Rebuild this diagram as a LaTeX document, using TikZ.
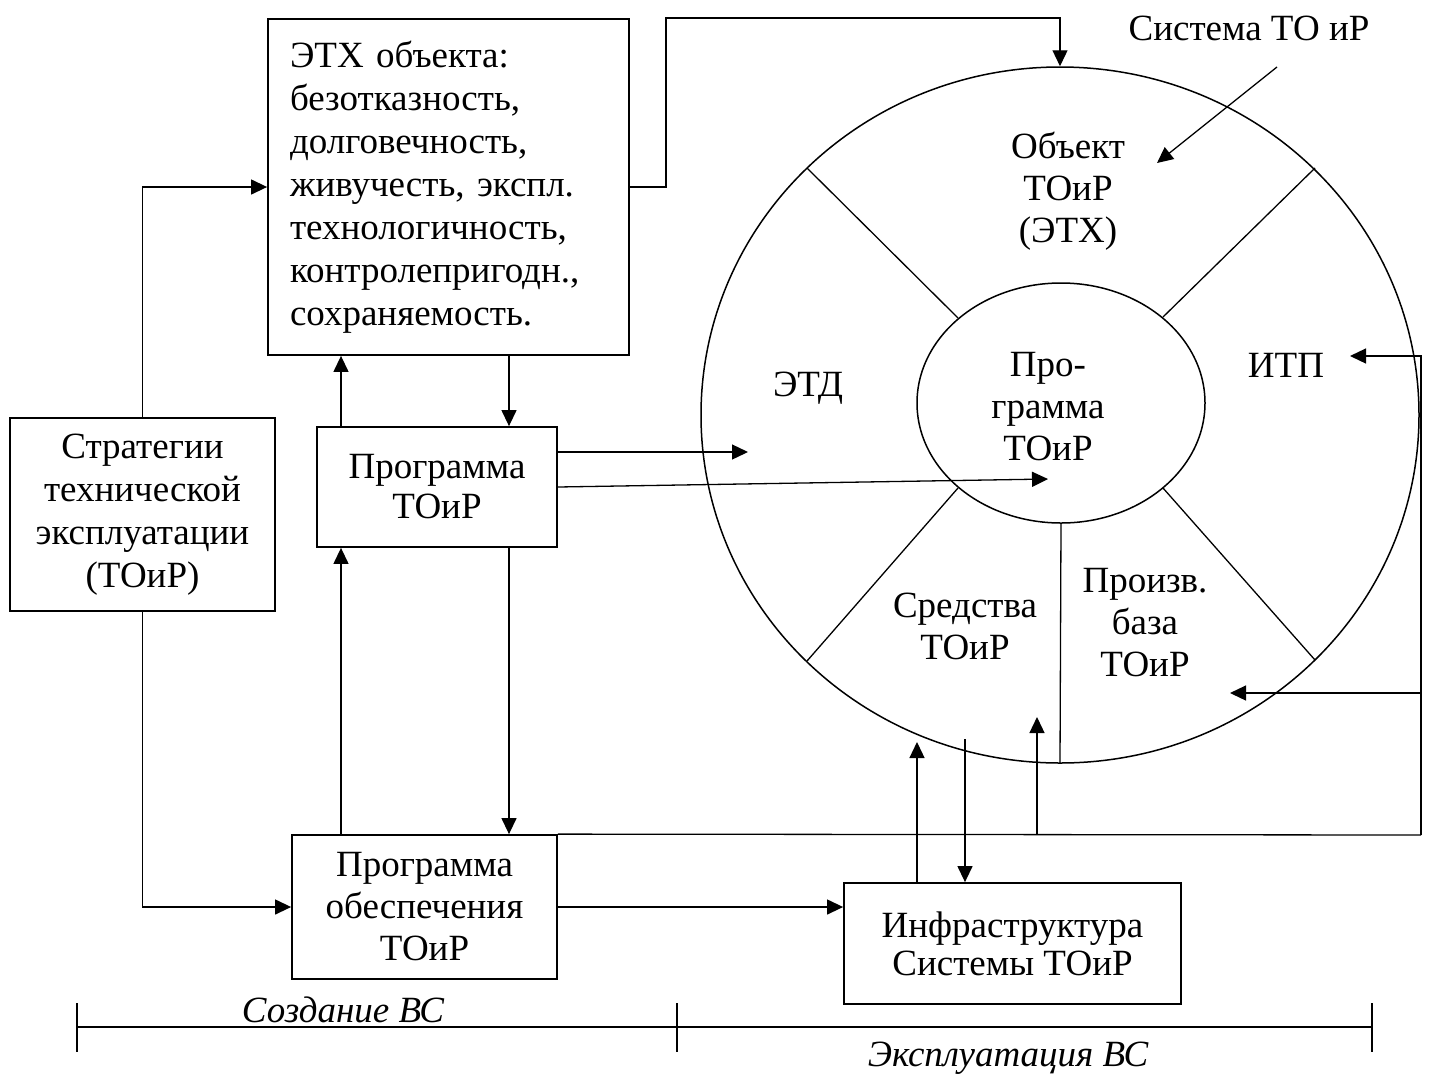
\documentclass[tikz,border=0pt]{standalone}
\usepackage{fontspec}
\setmainfont{Liberation Serif}
\usetikzlibrary{arrows.meta,shapes.geometric,calc}
\begin{document}
\begin{tikzpicture}[x=1pt,y=-1pt,
  box/.style={draw,line width=1.8pt,inner sep=0pt,align=center,font=\fontsize{37}{42}\selectfont},
  lbl/.style={inner sep=0pt,align=center,font=\fontsize{37}{42}\selectfont},
  conn/.style={line width=1.3pt},
  arr/.style={conn,-{Triangle[length=16pt,width=15pt]}},
  part/.style={line width=1.3pt},
  ring/.style={ellipse,draw,line width=1.5pt,inner sep=0pt}]
\useasboundingbox (0,0) rectangle (1430,1080);

% boxes
\node[box,minimum width=361pt,minimum height=336pt,align=left,text width=317pt,
      font=\fontsize{37}{43}\selectfont] (etx) at (448.5,187)
  {ЭТХ объекта:\\безотказность,\\долговечность,\\живучесть, экспл.\\технологичность,\\контролепригодн.,\\сохраняемость.};
\node[box,minimum width=265pt,minimum height=193pt,font=\fontsize{37}{43}\selectfont] (strat) at (142.5,514.5)
  {Стратегии\\технической\\эксплуатации\\(ТОиР)};
\node[box,minimum width=240pt,minimum height=120pt,font=\fontsize{37}{40}\selectfont] (prog) at (437,487)
  {Программа\\ТОиР};
\node[box,minimum width=265pt,minimum height=144pt] (prob) at (424.5,907)
  {Программа\\обеспечения\\ТОиР};
\node[box,minimum width=337pt,minimum height=121pt,font=\fontsize{37}{38}\selectfont] (infra) at (1012.5,943.5)
  {Инфраструктура\\Системы ТОиР};

% ellipses
\node[ring,minimum width=718pt,minimum height=696pt] (outer) at (1060,415) {};
\node[ring,minimum width=288pt,minimum height=240pt] (inner) at (1061,403) {};

% dividers
\draw[part] (958,318) -- (807,168);
\draw[part] (1163,317) -- (1315,168);
\draw[part] (958,488) -- (807,661);
\draw[part] (1163,488) -- (1315,660);
\draw[part] (inner.south) -- (outer.south);

% labels in ring
\node[lbl] (obj) at (1068,191) {Объект\\ТОиР\\(ЭТХ)};
\node[lbl] (etd) at (808,388) {ЭТД};
\node[lbl] (pcore) at (1048,407) {Про-\\грамма\\ТОиР};
\node[lbl] (itp) at (1286,365) {ИТП};
\node[lbl] (sred) at (965,626) {Средства\\ТОиР};
\node[lbl] (baza) at (1145,623) {Произв.\\база\\ТОиР};
\node[lbl] (sys) at (1249,28) {Система ТО иР};

% helper coordinates
\coordinate (xa) at (341,0);
\coordinate (xb) at (509,0);
\coordinate (rt) at (1421,835);
\coordinate (itpIn) at (1350,356);
\coordinate (bazaIn) at (1230,693);
\coordinate (sIn) at (1037,717);
\coordinate (infraUp) at (917,742);
\coordinate (infraDn) at (965,739);
\coordinate (etdIn) at (748,452);
\coordinate (pcIn) at (1048,479);
\coordinate (sysFrom) at (1277,67);
\coordinate (sysTo) at (1157,163);

% connectors
\draw[arr] (strat.north) |- (etx.west);
\draw[arr] (etx.east) -- ++(36,0) |- (outer.north |- etx.north) -- (outer.north);
\draw[arr] (etx.south -| xb) -- (prog.north -| xb);
\draw[arr] (prog.north -| xa) -- (etx.south -| xa);
\draw[arr] (prob.north -| xa) -- (prog.south -| xa);
\draw[arr] (prog.south -| xb) -- (prob.north -| xb);
\draw[arr] (strat.south) |- (prob.west);
\draw[arr] (prob.east) -- (prob.east -| infra.west);
\draw[conn] (prob.north east) -- (rt);
\draw[arr] (rt) |- (itpIn);
\draw[arr] (rt |- bazaIn) -- (bazaIn);
\draw[arr] (sIn |- rt) -- (sIn);
\draw[arr] (infra.north -| infraUp) -- (infraUp);
\draw[arr] (infraDn) -- (infra.north -| infraDn);
\draw[arr] (prog.east |- etdIn) -- (etdIn);
\draw[arr] (prog.east) -- (pcIn);
\draw[arr] (sysFrom) -- (sysTo);

% timeline
\coordinate (t0) at (77,1027);
\coordinate (t1) at (677,1027);
\coordinate (t2) at (1372,1027);
\draw[conn] (t0) -- (t2);
\foreach \t in {t0,t1,t2} \draw[conn] ($(\t)+(0,-24)$) -- ($(\t)+(0,25)$);
\node[lbl,font=\fontsize{37}{42}\selectfont\itshape] (cre) at (343,1010) {Создание ВС};
\node[lbl,font=\fontsize{37}{42}\selectfont\itshape] (expl) at (1008,1058) {Эксплуатация ВС};
\end{tikzpicture}
\end{document}
